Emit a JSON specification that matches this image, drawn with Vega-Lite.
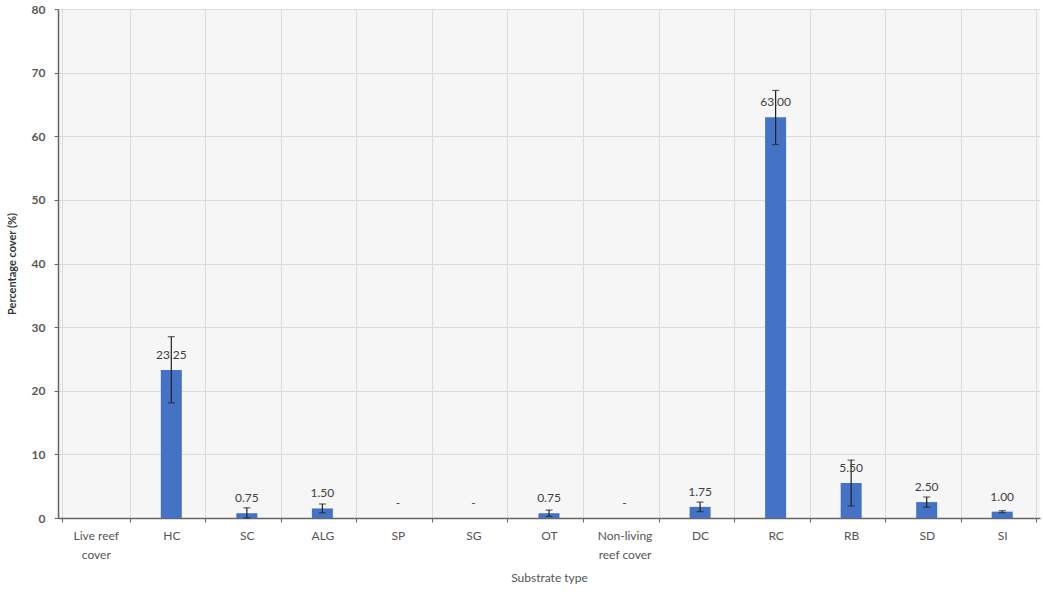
{
  "$schema": "https://vega.github.io/schema/vega-lite/v6.json",
  "width": 982,
  "height": 509,
  "autosize": {"type": "none"},
  "padding": {"left": 58, "top": 9, "right": 3, "bottom": 74},
  "background": "white",
  "config": {
    "font": "Lato",
    "view": {"fill": "#f6f6f6", "stroke": null},
    "axis": {
      "labelFont": "Lato",
      "titleFont": "Lato",
      "labelFontSize": 12,
      "labelColor": "#555555",
      "titleColor": "#333333",
      "domainColor": "#666666",
      "domainWidth": 1.5,
      "tickColor": "#666666",
      "tickSize": 4,
      "gridColor": "#dcdcdc",
      "gridWidth": 1
    }
  },
  "data": {
    "values": [
      {"category": "Live reef cover", "value": 0, "lo": null, "hi": null, "label": ""},
      {"category": "HC", "value": 23.25, "lo": 18.1, "hi": 28.5, "label": "23.25"},
      {"category": "SC", "value": 0.75, "lo": 0, "hi": 1.6, "label": "0.75"},
      {"category": "ALG", "value": 1.5, "lo": 0.8, "hi": 2.2, "label": "1.50"},
      {"category": "SP", "value": 0, "lo": null, "hi": null, "label": "-"},
      {"category": "SG", "value": 0, "lo": null, "hi": null, "label": "-"},
      {"category": "OT", "value": 0.75, "lo": 0.25, "hi": 1.25, "label": "0.75"},
      {"category": "Non-living reef cover", "value": 0, "lo": null, "hi": null, "label": "-"},
      {"category": "DC", "value": 1.75, "lo": 1.0, "hi": 2.5, "label": "1.75"},
      {"category": "RC", "value": 63, "lo": 58.7, "hi": 67.2, "label": "63.00"},
      {"category": "RB", "value": 5.5, "lo": 1.9, "hi": 9.1, "label": "5.50"},
      {"category": "SD", "value": 2.5, "lo": 1.7, "hi": 3.3, "label": "2.50"},
      {"category": "SI", "value": 1.0, "lo": 0.85, "hi": 1.15, "label": "1.00"}
    ]
  },
  "encoding": {
    "x": {
      "field": "category",
      "type": "nominal",
      "sort": null,
      "title": "Substrate type",
      "axis": {
        "labelAngle": 0,
        "tickBand": "extent",
        "grid": true,
        "labelPadding": 8,
        "labelLineHeight": 19,
        "titlePadding": 12,
        "titleFontSize": 12,
        "titleFontWeight": "normal",
        "titleColor": "#555555",
        "labelExpr": "datum.value == 'Live reef cover' ? ['Live reef', 'cover'] : datum.value == 'Non-living reef cover' ? ['Non-living', 'reef cover'] : datum.value"
      }
    }
  },
  "layer": [
    {
      "mark": {"type": "bar", "width": 21, "color": "#4472c4"},
      "encoding": {
        "y": {
          "field": "value",
          "type": "quantitative",
          "scale": {"domain": [0, 80]},
          "title": "Percentage cover (%)",
          "axis": {
            "values": [0, 10, 20, 30, 40, 50, 60, 70, 80],
            "grid": true,
            "labelFontWeight": "bold",
            "labelColor": "#595959",
            "titleFontSize": 11,
            "titleFontWeight": "bold",
            "titlePadding": 14,
            "labelPadding": 9
          }
        }
      }
    },
    {
      "mark": {"type": "rule", "color": "#222222", "strokeWidth": 1.2},
      "encoding": {
        "y": {"field": "lo", "type": "quantitative"},
        "y2": {"field": "hi"}
      }
    },
    {
      "mark": {"type": "tick", "color": "#222222", "size": 7, "thickness": 1.2},
      "encoding": {"y": {"field": "hi", "type": "quantitative"}}
    },
    {
      "mark": {"type": "tick", "color": "#222222", "size": 7, "thickness": 1.2},
      "encoding": {"y": {"field": "lo", "type": "quantitative"}}
    },
    {
      "mark": {"type": "text", "dy": -15, "fontSize": 12, "color": "#404040", "font": "Lato"},
      "encoding": {
        "y": {"field": "value", "type": "quantitative"},
        "text": {"field": "label"}
      }
    }
  ]
}
